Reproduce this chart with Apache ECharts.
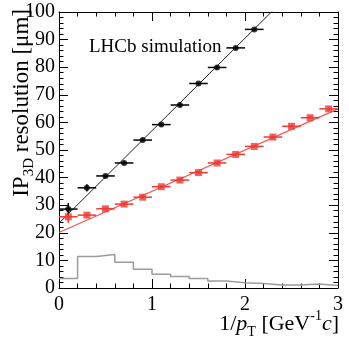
<!DOCTYPE html>
<html>
<head>
<meta charset="utf-8">
<script src="https://cdn.jsdelivr.net/npm/echarts@6/dist/echarts.min.js"></script>
<style>
html,body{margin:0;padding:0;background:#fff;}
#chart{width:349px;height:346px;}
</style>
</head>
<body>
<div id="chart"></div>
<script>
// ---- data ----
const blackX = [0.1, 0.3, 0.5, 0.7, 0.9, 1.1, 1.3, 1.5, 1.7, 1.9, 2.1];
const blackY = [28.6, 36.3, 40.6, 45.3, 53.6, 59.2, 66.3, 74.1, 79.9, 87.0, 93.7];
const blackYErr = [2.2, 1.3, 0.6, 0.6, 0.6, 0.6, 0.6, 0.6, 0.6, 0.6, 0.6];
const redX = [0.1, 0.3, 0.5, 0.7, 0.9, 1.1, 1.3, 1.5, 1.7, 1.9, 2.1, 2.3, 2.5, 2.7, 2.9];
const redY = [25.8, 26.4, 28.7, 30.4, 32.9, 36.7, 39.1, 41.8, 45.3, 48.4, 51.3, 54.7, 58.6, 61.7, 64.9];
const redYErr = [2.2, 0.6, 0.6, 0.6, 0.6, 0.6, 0.6, 0.6, 0.6, 0.6, 0.6, 0.6, 0.6, 0.6, 0.6];
const binHalfWidth = 0.1;
const blackFit = [23.5, 33.5];   // intercept, slope
const redFit = [20.1, 14.93];
const histEdges = [0, 0.2, 0.4, 0.6, 0.8, 1.0, 1.2, 1.4, 1.6, 1.8, 2.0, 2.2, 2.4, 2.6, 2.8, 3.0];
const histValues = [3.4, 11.4, 12.1, 9.3, 6.8, 5.0, 4.2, 3.4, 2.5, 1.9, 1.6, 1.1, 1.1, 1.45, 0.9];
const xTicks = [0, 1, 2, 3];
const yTicks = [0, 10, 20, 30, 40, 50, 60, 70, 80, 90, 100];

// ---- build ----
const FONT = 'Liberation Serif';
const BLACK = '#000000';
const RED = '#ec3b35';
const GREY = '#9c9c9c';

function errData(xs, ys, ey) {
  return xs.map((x, i) => [x, ys[i], binHalfWidth, ey[i]]);
}
function fitData(p) {
  const x0 = xTicks[0], x1 = xTicks[xTicks.length - 1];
  return [[x0, p[0] + p[1] * x0], [x1, p[0] + p[1] * x1]];
}
const histData = histEdges.map((e, i) => [e, histValues[Math.min(i, histValues.length - 1)]]);

function errRender(color) {
  return function (params, api) {
    const x = api.value(0), y = api.value(1), ex = api.value(2), ey = api.value(3);
    const l = api.coord([x - ex, y]), r = api.coord([x + ex, y]);
    const t = api.coord([x, y + ey]), b = api.coord([x, y - ey]);
    return {
      type: 'group',
      children: [
        { type: 'line', shape: { x1: l[0], y1: l[1], x2: r[0], y2: r[1] }, style: { stroke: color, lineWidth: 1.5 } },
        { type: 'line', shape: { x1: t[0], y1: t[1], x2: b[0], y2: b[1] }, style: { stroke: color, lineWidth: 1.5 } }
      ]
    };
  };
}

const axisCommon = {
  axisLine: { show: true, onZero: false, lineStyle: { color: '#000', width: 1 } },
  splitLine: { show: false },
  minorSplitLine: { show: false }
};

const chart = echarts.init(document.getElementById('chart'), null, { renderer: 'canvas' });
const option = {
  animation: false,
  backgroundColor: '#fff',
  grid: { left: 59, top: 12, right: 11, bottom: 58, containLabel: false },
  xAxis: [
    Object.assign({}, axisCommon, {
      type: 'value', min: xTicks[0], max: xTicks[xTicks.length - 1], interval: 1, position: 'bottom',
      axisTick: { show: true, inside: true, length: 9, lineStyle: { color: '#000', width: 1 } },
      minorTick: { show: true, splitNumber: 5, length: 4.5, lineStyle: { color: '#000', width: 1 } },
      axisLabel: { show: true, margin: 7, color: '#000', fontFamily: FONT, fontSize: 20 }
    }),
    Object.assign({}, axisCommon, {
      type: 'value', min: xTicks[0], max: xTicks[xTicks.length - 1], interval: 1, position: 'top',
      axisTick: { show: true, inside: true, length: 9, lineStyle: { color: '#000', width: 1 } },
      minorTick: { show: true, splitNumber: 5, length: 4.5, lineStyle: { color: '#000', width: 1 } },
      axisLabel: { show: false }
    })
  ],
  yAxis: [
    Object.assign({}, axisCommon, {
      type: 'value', min: yTicks[0], max: yTicks[yTicks.length - 1], interval: 10, position: 'left',
      axisTick: { show: true, inside: true, length: 9, lineStyle: { color: '#000', width: 1 } },
      minorTick: { show: true, splitNumber: 5, length: 4.5, lineStyle: { color: '#000', width: 1 } },
      axisLabel: { show: true, margin: 4, color: '#000', fontFamily: FONT, fontSize: 20 }
    }),
    Object.assign({}, axisCommon, {
      type: 'value', min: yTicks[0], max: yTicks[yTicks.length - 1], interval: 10, position: 'right',
      axisTick: { show: true, inside: true, length: 9, lineStyle: { color: '#000', width: 1 } },
      minorTick: { show: true, splitNumber: 5, length: 4.5, lineStyle: { color: '#000', width: 1 } },
      axisLabel: { show: false }
    })
  ],
  series: [
    {
      type: 'line', data: histData, step: 'end', symbol: 'none', clip: true,
      lineStyle: { color: GREY, width: 1.5 }, z: 1
    },
    {
      type: 'line', data: fitData(blackFit), symbol: 'none', clip: true,
      lineStyle: { color: '#222', width: 1 }, z: 2
    },
    {
      type: 'line', data: fitData(redFit), symbol: 'none', clip: true,
      lineStyle: { color: '#f05a52', width: 1.2 }, z: 2
    },
    {
      type: 'custom', data: errData(redX, redY, redYErr), renderItem: errRender(RED),
      encode: { x: 0, y: 1 }, z: 3
    },
    {
      type: 'scatter', data: redX.map((x, i) => [x, redY[i]]), symbol: 'rect', symbolSize: 7,
      itemStyle: { color: RED }, z: 4
    },
    {
      type: 'custom', data: errData(blackX, blackY, blackYErr), renderItem: errRender(BLACK),
      encode: { x: 0, y: 1 }, z: 3
    },
    {
      type: 'scatter', data: blackX.map((x, i) => [x, blackY[i]]), symbol: 'circle', symbolSize: 6,
      itemStyle: { color: BLACK }, z: 4
    }
  ],
  graphic: [
    {
      type: 'text', left: 89, top: 38,
      style: { text: 'LHCb simulation', fontFamily: FONT, fontSize: 19, fill: '#000' }
    },
    {
      type: 'text', x: 22, y: 9, rotation: Math.PI / 2,
      style: {
        text: '{a|IP}{s|3D}{a| resolution [μm]}',
        align: 'right', verticalAlign: 'middle',
        rich: {
          a: { fontFamily: FONT, fontSize: 23, fill: '#000', lineHeight: 30, verticalAlign: 'middle' },
          s: { fontFamily: FONT, fontSize: 15, fill: '#000', lineHeight: 30, verticalAlign: 'bottom' }
        }
      }
    },
    {
      type: 'text', x: 339, y: 324,
      style: {
        text: '{a|1/}{i|p}{s|T}{a| [GeV}{u|-1}{i|c}{a|]}',
        align: 'right', verticalAlign: 'middle',
        rich: {
          a: { fontFamily: FONT, fontSize: 22, fill: '#000', lineHeight: 30, verticalAlign: 'middle' },
          i: { fontFamily: FONT, fontSize: 22, fontStyle: 'italic', fill: '#000', lineHeight: 30, verticalAlign: 'middle' },
          s: { fontFamily: FONT, fontSize: 14, fill: '#000', lineHeight: 30, verticalAlign: 'bottom' },
          u: { fontFamily: FONT, fontSize: 14, fill: '#000', lineHeight: 30, verticalAlign: 'top' }
        }
      }
    }
  ]
};
chart.setOption(option);
</script>
</body>
</html>
